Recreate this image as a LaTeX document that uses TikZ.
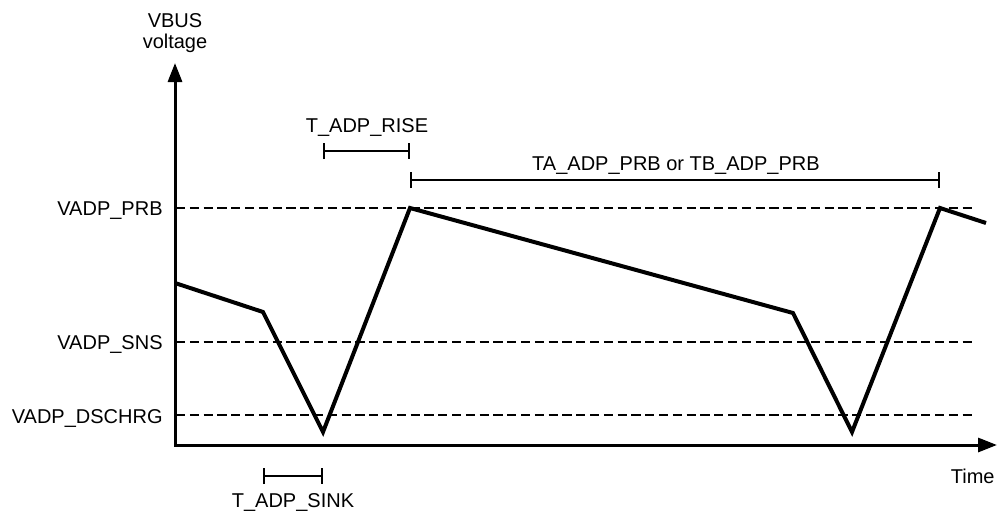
\documentclass[tikz,border=0pt]{standalone}
\usepackage{fontspec}
\setmainfont{Liberation Sans}
\usetikzlibrary{arrows.meta}
\begin{document}
\begin{tikzpicture}[x=0.5pt, y=-0.5pt, font=\fontsize{10pt}{12pt}\selectfont, inner sep=0pt,
  axis/.style={line width=1.5pt, -{Triangle[length=9.5pt, width=7pt]}},
  level/.style={line width=1.3pt, dash pattern=on 4.6pt off 2.3pt},
  wave/.style={line width=2pt, line join=miter},
  span/.style={line width=0.55pt, {Bar[width=8pt, line width=0.8pt]}-{Bar[width=8pt, line width=0.8pt]}}]
\useasboundingbox (0,0) rectangle (997,514);

\coordinate (origin) at (175,445);
\coordinate (ytop) at (175,63);
\coordinate (xend) at (997,445);

\node[anchor=base] (vbus) at (175,27) {VBUS};
\node[anchor=base] (voltage) at (175,48) {voltage};
\node[anchor=base east] (prb) at (163,215) {VADP\_PRB};
\node[anchor=base east] (sns) at (163,349) {VADP\_SNS};
\node[anchor=base east] (dschrg) at (163,423) {VADP\_DSCHRG};
\node[anchor=base east] (time) at (995,483) {Time};

\draw[level] (176,208) -- (972,208);
\draw[level] (176,342) -- (972,342);
\draw[level] (176,415) -- (972,415);

\draw[axis] (175,446) -- (ytop);
\draw[axis] (174,445) -- (xend);

\coordinate (w0) at (175,283);
\coordinate (w1) at (263,312);
\coordinate (w2) at (323,432);
\coordinate (w3) at (410,208);
\coordinate (w4) at (793,313);
\coordinate (w5) at (852,432);
\coordinate (w6) at (940,208);
\coordinate (w7) at (986,223);
\draw[wave] (w0) -- (w1) -- (w2) -- (w3) -- (w4) -- (w5) -- (w6) -- (w7);

\coordinate (rise a) at (323,151);
\coordinate (rise b) at (410,151);
\draw[span] (rise a) -- (rise b);
\node[anchor=base] (rise) at (367,132) {T\_ADP\_RISE};

\coordinate (prb a) at (410,180);
\coordinate (prb b) at (940,180);
\draw[span] (prb a) -- (prb b);
\node[anchor=base] (prbtime) at (676,170) {TA\_ADP\_PRB or TB\_ADP\_PRB};

\coordinate (sink a) at (263,476);
\coordinate (sink b) at (323,476);
\draw[span] (sink a) -- (sink b);
\node[anchor=base] (sink) at (293,507) {T\_ADP\_SINK};

\end{tikzpicture}
\end{document}
